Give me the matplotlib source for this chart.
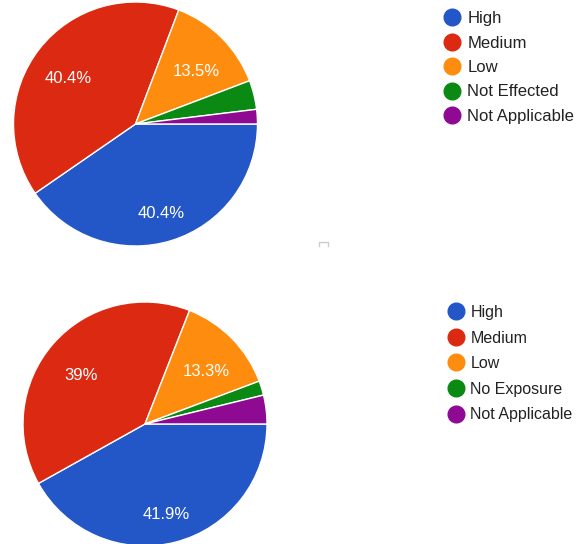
import matplotlib
matplotlib.use("Agg")
import matplotlib.pyplot as plt
from matplotlib.lines import Line2D

plt.rcParams['font.family'] = ['Liberation Sans', 'DejaVu Sans']

# survey responses (counts), read from the percentages shown
labels_top = ['High', 'Medium', 'Low', 'Not Effected', 'Not Applicable']
counts_top = [21, 21, 7, 2, 1]

labels_bottom = ['High', 'Medium', 'Low', 'No Exposure', 'Not Applicable']
counts_bottom = [44, 41, 14, 2, 4]

colors = ['#2356c6', '#dc2a12', '#fd8c0f', '#0a8a12', '#8e0a92']

W, H = 576, 544
fig = plt.figure(figsize=(W / 100, H / 100), dpi=100)


def fmt(pct):
    if pct < 5:
        return ''
    s = f"{pct:.1f}"
    if s.endswith('.0'):
        s = s[:-2]
    return s + '%'


def draw_pie(cx, cy, r, counts, labels, leg_x, leg_y, spacing, leg_fs):
    # cx, cy in pixels from top-left
    ax = fig.add_axes([(cx - r) / W, (H - cy - r) / H, 2 * r / W, 2 * r / H])
    wedges, texts, autotexts = ax.pie(
        counts, colors=colors, startangle=0, counterclock=False,
        autopct=fmt, pctdistance=0.7, radius=1,
        wedgeprops=dict(edgecolor='white', linewidth=1),
        textprops=dict(color='white', fontsize=12))
    for t in autotexts:
        t.set_va('top')
    ax.set_xlim(-1, 1)
    ax.set_ylim(-1, 1)
    ax.set_aspect('equal')
    ax.axis('off')

    handles = [Line2D([], [], marker='o', linestyle='', markersize=12,
                      color=c) for c in colors]
    fig.legend(handles, labels, loc='upper left',
               bbox_to_anchor=(leg_x / W, 1 - leg_y / H),
               frameon=False, fontsize=leg_fs, labelcolor='#222222',
               handlelength=1.0, handletextpad=0.4, labelspacing=spacing,
               borderaxespad=0, borderpad=0)


draw_pie(135.5, 124, 122, counts_top, labels_top, 444, 11, 0.57, 12)
draw_pie(145, 424, 122, counts_bottom, labels_bottom, 448, 305, 0.66, 11.5)

# small grey mark between the charts
fig.add_artist(Line2D([319 / W, 319 / W, 328 / W, 328 / W],
                      [1 - 246 / H, 1 - 242 / H, 1 - 242 / H, 1 - 246 / H],
                      color='#cccccc', linewidth=1))

fig.savefig('out.png', dpi=100, facecolor='white')
